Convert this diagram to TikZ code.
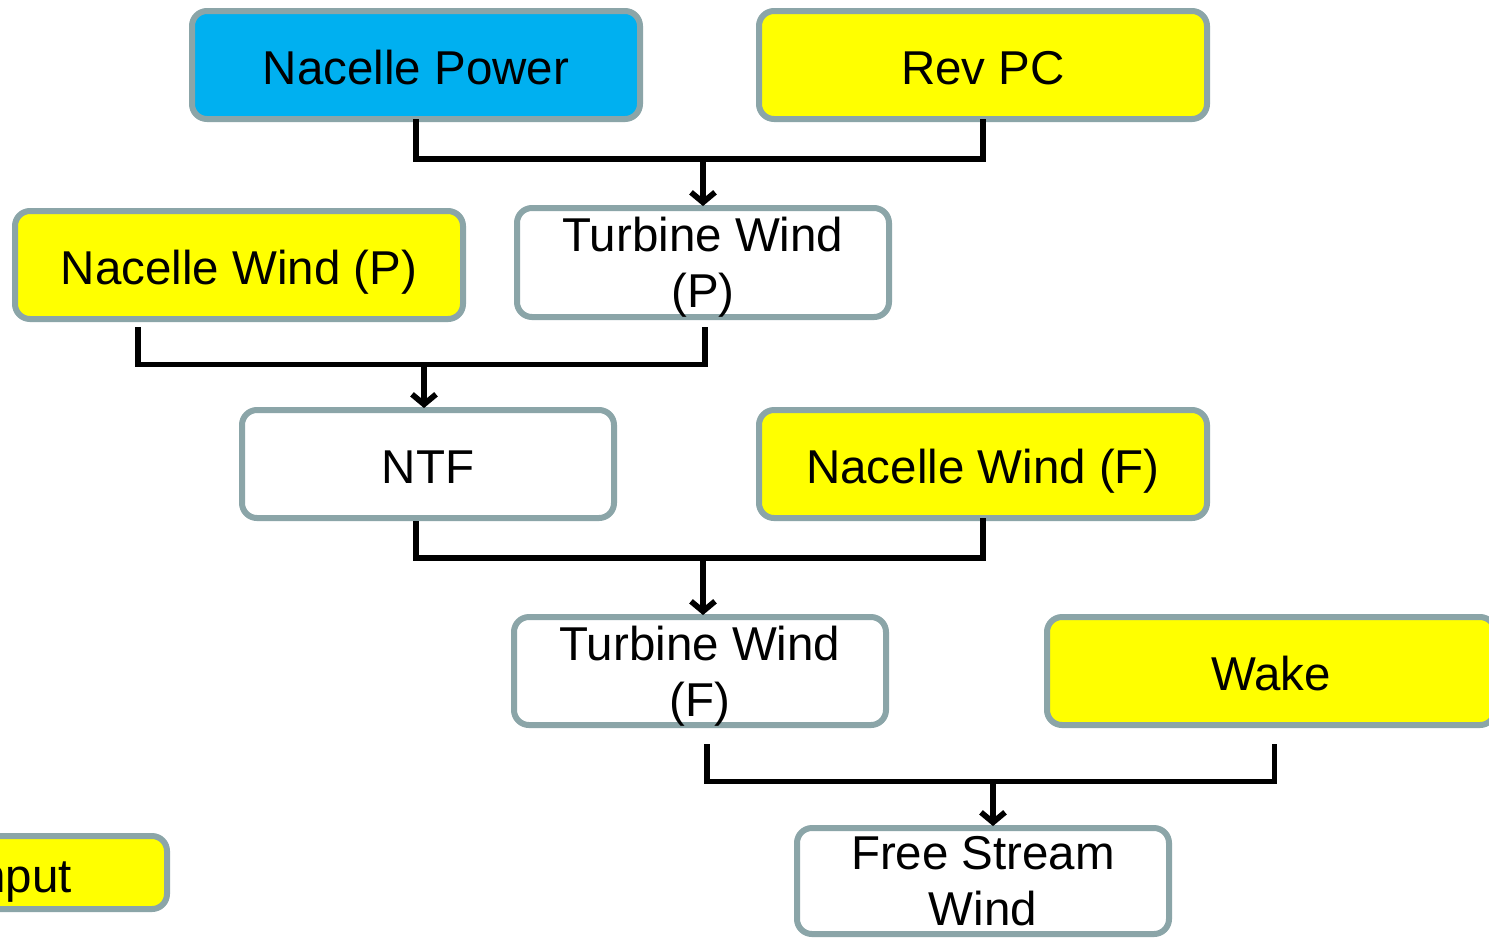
\documentclass[tikz,border=0pt]{standalone}
\usepackage{fontspec}
\setmainfont{Liberation Sans}
\usetikzlibrary{arrows.meta}
\definecolor{bordergray}{RGB}{139,165,168}
\definecolor{npblue}{RGB}{0,176,240}
\definecolor{ylw}{RGB}{255,255,0}
\tikzset{
  box/.style={draw=bordergray, line width=3pt, rounded corners=7.5pt, inner sep=0pt, outer sep=0pt,
    align=center, font=\fontsize{23.75}{28}\selectfont, text=black},
  oneline/.style={text height=19.5pt, text depth=0pt},
  twoline/.style={text depth=0pt},
  bigbox/.style={box, oneline, minimum width=224pt, minimum height=54pt},
  midbox/.style={box, minimum width=186pt, minimum height=54pt},
  conn/.style={line width=2.85pt, black, line join=miter},
  arr/.style={conn, -{Straight Barb[length=5pt,width=12pt]}, shorten >=1pt},
}
\begin{document}
\begin{tikzpicture}[x=0.5pt, y=-0.5pt]
\useasboundingbox (0,0) rectangle (1489,939);
\clip (0,0) rectangle (1489,939);
\fill[white] (0,0) rectangle (1489,939);
% boxes
\node[bigbox, fill=npblue] (np) at (416,65) {Nacelle Power};
\node[bigbox, fill=ylw] (rp) at (983,65) {Rev PC};
\node[bigbox, fill=ylw] (nwp) at (239,265) {Nacelle Wind (P)};
\node[midbox, twoline, fill=white, minimum height=54.5pt] (twp) at (703,262.5) {Turbine Wind\\(P)};
\node[midbox, oneline, fill=white] (ntf) at (428,464) {NTF};
\node[bigbox, fill=ylw] (nwf) at (983,464) {Nacelle Wind (F)};
\node[midbox, twoline, fill=white] (twf) at (700,671) {Turbine Wind\\(F)};
\node[bigbox, fill=ylw] (wake) at (1271,671) {Wake};
\node[midbox, fill=white, minimum height=53pt] (fsw) at (983,881) {Free Stream\\Wind};
\node[box, oneline, fill=ylw, minimum width=150pt, minimum height=36.5pt, text width=150pt] (inp) at (17,872.5) {\hspace*{2pt}Input};
% junction points
\coordinate (j1) at (703,159);
\coordinate (b2l) at (138,327);
\coordinate (b2r) at (705,327);
\coordinate (j2) at (424,364.5);
\coordinate (b3l) at (416,521);
\coordinate (j3) at (703,558);
\coordinate (b4l) at (707,744);
\coordinate (b4r) at (1274.5,744);
\coordinate (j4) at (993,781.5);
% connectors
\draw[conn] (np.south) |- (j1) -| (rp.south);
\draw[arr] (j1) -- (j1 |- twp.north);
\draw[conn] (b2l) |- (j2) -| (b2r);
\draw[arr] (j2) -- (j2 |- ntf.north);
\draw[conn] (b3l) |- (j3) -| (nwf.south);
\draw[arr] (j3) -- (j3 |- twf.north);
\draw[conn] (b4l) |- (j4) -| (b4r);
\draw[arr] (j4) -- (j4 |- fsw.north);
\end{tikzpicture}
\end{document}
